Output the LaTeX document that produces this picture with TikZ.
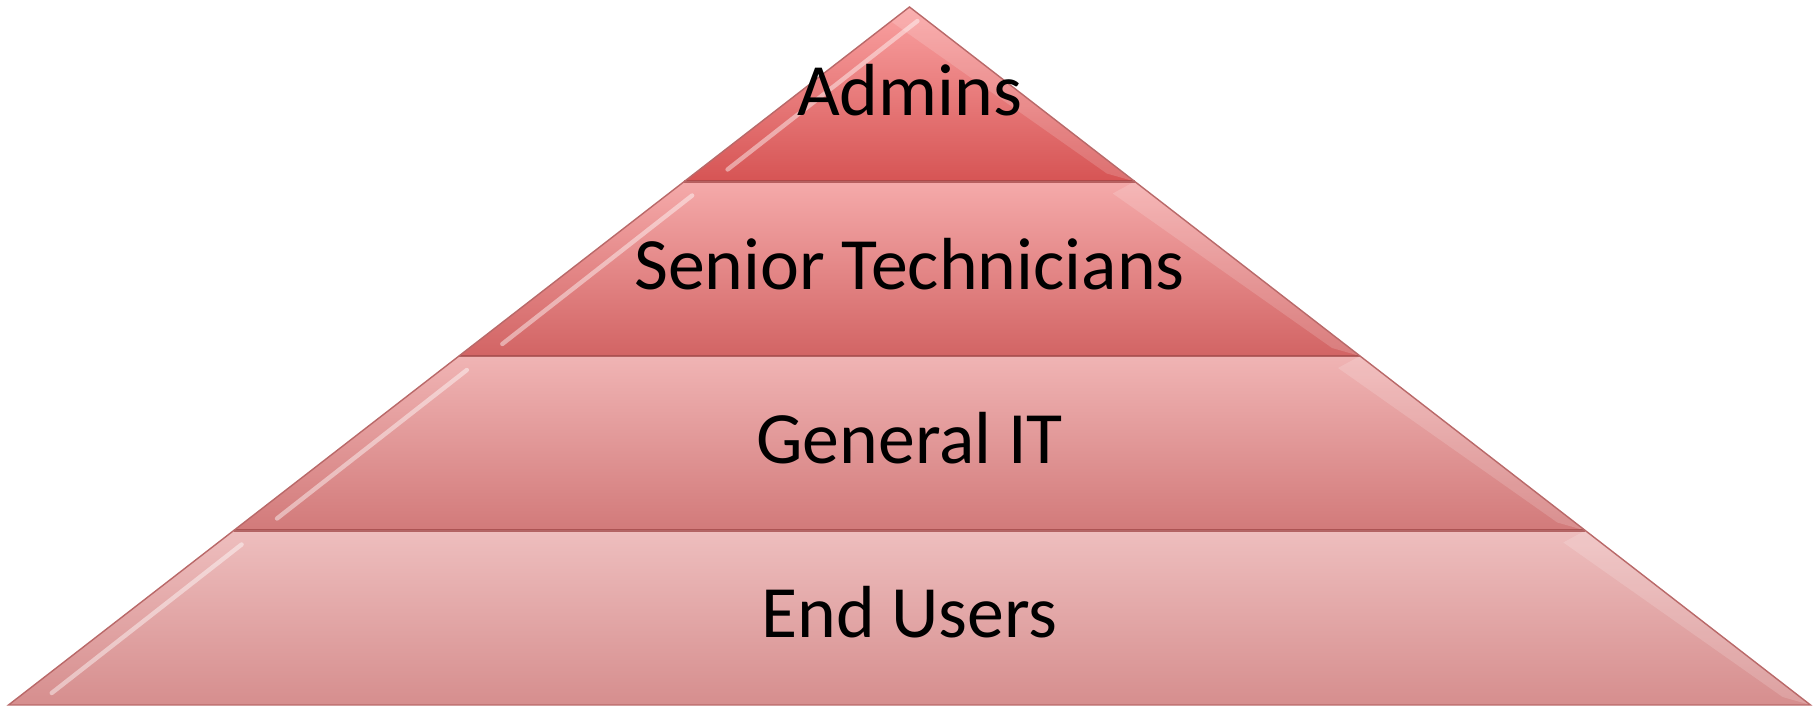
\documentclass[tikz,border=0pt]{standalone}
\usepackage{fontspec}
\setmainfont{Carlito}

\definecolor{bandAtop}{RGB}{250,162,162}
\definecolor{bandAbot}{RGB}{214,84,84}
\definecolor{bandBtop}{RGB}{245,170,170}
\definecolor{bandBbot}{RGB}{210,100,100}
\definecolor{bandCtop}{RGB}{240,180,180}
\definecolor{bandCbot}{RGB}{210,122,122}
\definecolor{bandDtop}{RGB}{238,190,190}
\definecolor{bandDbot}{RGB}{214,142,142}
\definecolor{rim}{RGB}{185,105,105}
\definecolor{seam}{RGB}{160,70,70}

\begin{document}
\begin{tikzpicture}[
    x=0.02cm, y=0.02cm,
    label/.style={font=\fontsize{42}{50}\selectfont, anchor=base, text=black},
    rimline/.style={draw=rim, line width=0.8pt, line join=miter},
    seamline/.style={draw=seam, opacity=0.75, line width=1.4pt},
    shine/.style={draw=white, opacity=0.45, line width=2.5pt, line cap=round},
    bevel/.style={fill=white, opacity=0.16}
]
\useasboundingbox (0,0) rectangle (1819,710);

% Bands of the pyramid, top to bottom
\foreach \i/\ct/\cb in {1/bandAtop/bandAbot, 2/bandBtop/bandBbot,
                        3/bandCtop/bandCbot, 4/bandDtop/bandDbot} {
  \pgfmathsetmacro\yt{703-(\i-1)*174.5}
  \pgfmathsetmacro\yb{703-\i*174.5}
  \pgfmathsetmacro\wt{(703-\yt)*1.291}
  \pgfmathsetmacro\wb{(703-\yb)*1.291}
  \shade[top color=\ct, bottom color=\cb]
    (909.5-\wt,\yt) -- (909.5+\wt,\yt) -- (909.5+\wb,\yb) -- (909.5-\wb,\yb) -- cycle;
  % bevel on the right slope
  \fill[bevel] (909.5+\wt,\yt) -- (909.5+\wb,\yb) -- (909.5+\wb-28,\yb+8)
    -- (909.5+\wt-22,\yt-12) -- cycle;
  % highlight on the left slope
  \pgfmathsetmacro\ha{\yb+12}
  \pgfmathsetmacro\hb{\yt-14}
  \draw[shine] (909.5-\wb+15*1.291+24,\ha) -- (909.5-\wt-14*1.291+26,\hb);
}

% Seams between the bands
\foreach \i in {1,2,3} {
  \pgfmathsetmacro\yb{703-\i*174.5}
  \pgfmathsetmacro\wb{(703-\yb)*1.291}
  \draw[seamline] (909.5-\wb,\yb) -- (909.5+\wb,\yb);
}

% Outline
\draw[rimline] (909.5,703) -- (1810.5,5) -- (8.5,5) -- cycle;

% Labels
\node[label] (admins) at (909.5,594) {Admins};
\node[label] (senior) at (909.5,420) {Senior Technicians};
\node[label] (general) at (909.5,246) {General IT};
\node[label] (endusers) at (909.5,72) {End Users};

\end{tikzpicture}
\end{document}
